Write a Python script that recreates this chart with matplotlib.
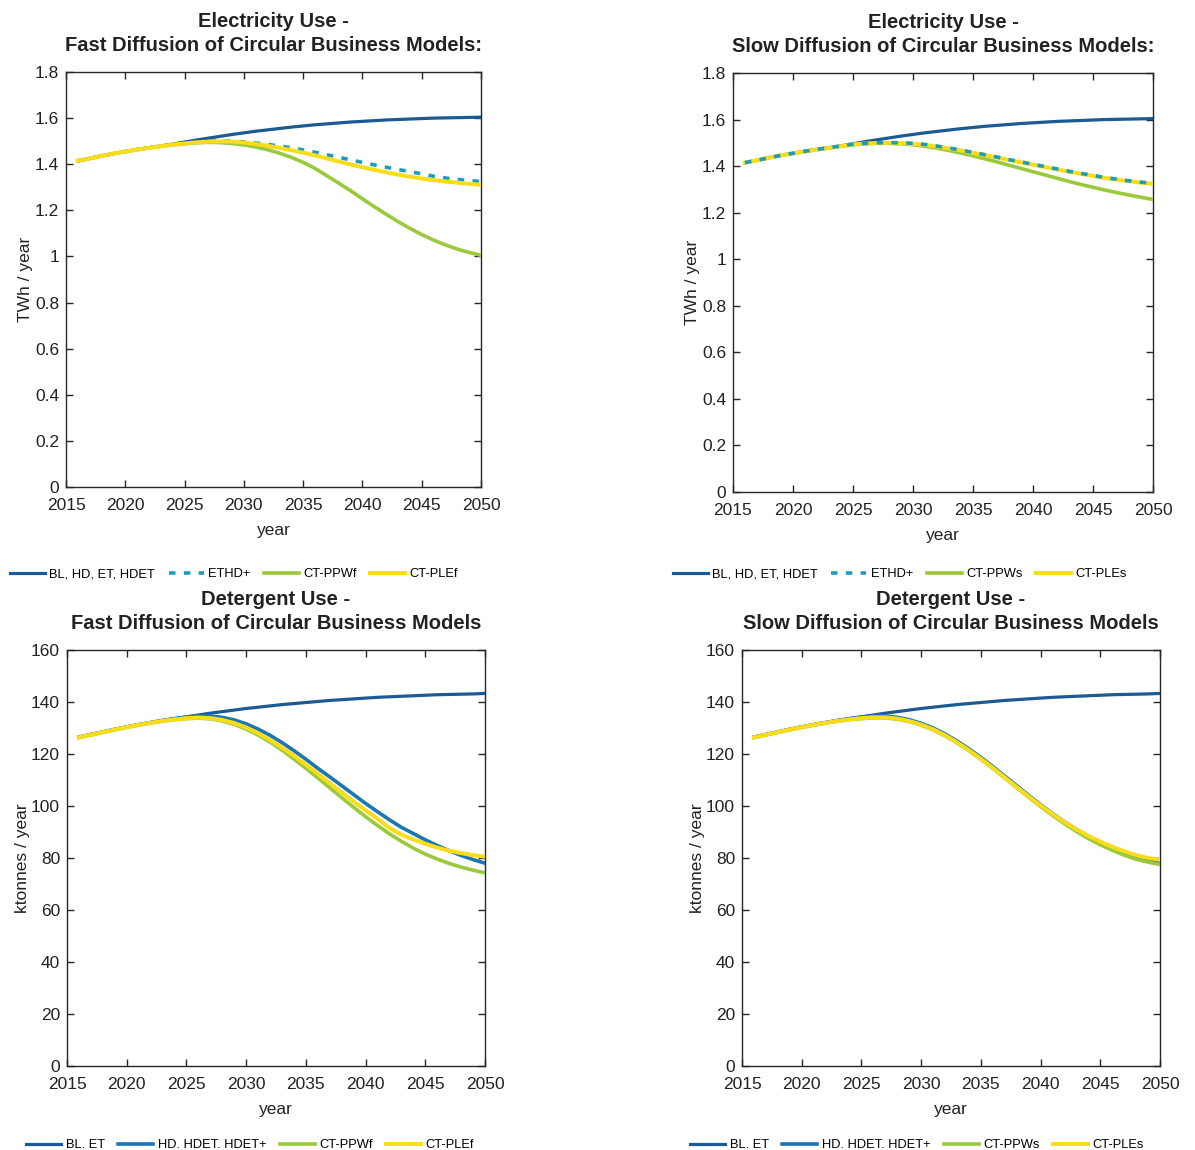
import numpy as np
import matplotlib
matplotlib.use("Agg")
import matplotlib.pyplot as plt

plt.rcParams['font.family'] = ['Liberation Sans', 'DejaVu Sans']

years = list(range(2016, 2051))

# electricity use, TWh / year
elec_bl = [1.415, 1.425, 1.436, 1.446, 1.455, 1.464, 1.472, 1.479, 1.487, 1.496,
           1.505, 1.513, 1.521, 1.529, 1.536, 1.543, 1.549, 1.555, 1.561, 1.566,
           1.571, 1.575, 1.579, 1.583, 1.586, 1.589, 1.592, 1.594, 1.596, 1.598,
           1.600, 1.601, 1.602, 1.603, 1.604]
elec_ethd_fast = [1.415, 1.425, 1.436, 1.446, 1.455, 1.464, 1.472, 1.479, 1.487, 1.494,
                  1.498, 1.500, 1.501, 1.500, 1.497, 1.492, 1.486, 1.479, 1.471, 1.462,
                  1.452, 1.441, 1.430, 1.419, 1.408, 1.397, 1.387, 1.377, 1.368, 1.358,
                  1.348, 1.340, 1.334, 1.329, 1.325]
elec_ppw_fast = [1.415, 1.425, 1.436, 1.446, 1.455, 1.463, 1.471, 1.478, 1.484, 1.488,
                 1.493, 1.495, 1.494, 1.490, 1.484, 1.475, 1.463, 1.448, 1.430, 1.408,
                 1.382, 1.350, 1.318, 1.285, 1.250, 1.216, 1.183, 1.151, 1.122, 1.095,
                 1.071, 1.050, 1.032, 1.017, 1.005]
elec_ple_fast = [1.415, 1.425, 1.436, 1.446, 1.455, 1.463, 1.471, 1.478, 1.485, 1.490,
                 1.495, 1.498, 1.499, 1.498, 1.494, 1.488, 1.480, 1.471, 1.461, 1.450,
                 1.438, 1.425, 1.412, 1.399, 1.387, 1.376, 1.365, 1.355, 1.346, 1.338,
                 1.331, 1.325, 1.320, 1.315, 1.311]
elec_ethd_slow = [1.415, 1.425, 1.436, 1.446, 1.455, 1.464, 1.472, 1.479, 1.487, 1.494,
                  1.498, 1.500, 1.501, 1.500, 1.498, 1.493, 1.486, 1.478, 1.469, 1.459,
                  1.449, 1.439, 1.428, 1.418, 1.408, 1.398, 1.388, 1.378, 1.369, 1.360,
                  1.351, 1.344, 1.337, 1.331, 1.326]
elec_ppw_slow = [1.415, 1.425, 1.436, 1.446, 1.455, 1.463, 1.471, 1.478, 1.485, 1.492,
                 1.496, 1.498, 1.498, 1.496, 1.492, 1.485, 1.477, 1.467, 1.456, 1.444,
                 1.431, 1.418, 1.404, 1.390, 1.376, 1.362, 1.348, 1.334, 1.321, 1.309,
                 1.297, 1.286, 1.276, 1.266, 1.257]
elec_ple_slow = [1.415, 1.425, 1.436, 1.446, 1.455, 1.463, 1.471, 1.478, 1.486, 1.493,
                 1.497, 1.499, 1.500, 1.499, 1.496, 1.491, 1.484, 1.476, 1.467, 1.457,
                 1.447, 1.437, 1.426, 1.416, 1.406, 1.396, 1.386, 1.376, 1.367, 1.358,
                 1.349, 1.342, 1.335, 1.329, 1.324]

# detergent use, ktonnes / year
det_bl = [126.5, 127.5, 128.5, 129.5, 130.4, 131.3, 132.1, 132.9, 133.6, 134.3,
          135.0, 135.7, 136.3, 136.9, 137.5, 138.0, 138.5, 139.0, 139.4, 139.8,
          140.2, 140.6, 140.9, 141.2, 141.5, 141.8, 142.0, 142.2, 142.4, 142.6,
          142.8, 142.9, 143.0, 143.1, 143.3]
det_hd_fast = [126.5, 127.5, 128.5, 129.5, 130.4, 131.3, 132.1, 132.9, 133.6, 134.2,
               134.6, 134.6, 134.1, 133.1, 131.6, 129.6, 127.2, 124.4, 121.3, 118.0,
               114.5, 111.2, 107.8, 104.4, 101.0, 97.8, 94.7, 91.8, 89.4, 87.0,
               84.8, 82.8, 81.0, 79.4, 78.0]
det_ppw_fast = [126.3, 127.3, 128.3, 129.3, 130.2, 131.1, 131.9, 132.6, 133.2, 133.6,
                133.8, 133.5, 132.7, 131.4, 129.6, 127.3, 124.6, 121.5, 118.1, 114.5,
                110.8, 107.0, 103.2, 99.5, 95.9, 92.5, 89.3, 86.4, 83.8, 81.5,
                79.6, 77.9, 76.5, 75.3, 74.3]
det_ple_fast = [126.4, 127.4, 128.4, 129.4, 130.3, 131.2, 132.0, 132.7, 133.3, 133.8,
                134.0, 133.8, 133.1, 131.9, 130.2, 128.0, 125.4, 122.5, 119.3, 115.9,
                112.4, 108.8, 105.2, 101.7, 98.3, 95.1, 91.5, 89.0, 87.1, 85.5,
                84.0, 82.8, 81.9, 81.1, 80.5]
det_hd_slow = [126.5, 127.5, 128.5, 129.5, 130.4, 131.3, 132.1, 132.9, 133.6, 134.2,
               134.6, 134.6, 134.1, 133.2, 131.8, 130.0, 127.7, 125.0, 122.0, 118.7,
               115.2, 111.5, 107.8, 104.1, 100.5, 97.1, 93.9, 91.0, 88.4, 86.1,
               84.1, 82.3, 80.8, 79.6, 78.6]
det_ppw_slow = [126.3, 127.3, 128.3, 129.3, 130.2, 131.1, 131.9, 132.6, 133.2, 133.6,
                133.9, 133.9, 133.4, 132.5, 131.1, 129.3, 127.0, 124.3, 121.3, 118.0,
                114.5, 110.8, 107.1, 103.4, 99.8, 96.4, 93.2, 90.2, 87.5, 85.1,
                83.0, 81.1, 79.5, 78.4, 77.5]
det_ple_slow = [126.4, 127.4, 128.4, 129.4, 130.3, 131.2, 132.0, 132.7, 133.3, 133.8,
                134.1, 134.1, 133.6, 132.7, 131.3, 129.5, 127.2, 124.5, 121.5, 118.2,
                114.7, 111.0, 107.3, 103.7, 100.2, 96.9, 93.8, 91.0, 88.5, 86.3,
                84.3, 82.6, 81.1, 80.0, 79.3]

c_bl = '#1b5a93'
c_hd = '#1a77b2'
c_ethd = '#1f9cbc'
c_ppw = '#9bc93c'
c_ple = '#f9dc1a'
c_axis = '#262626'
c_text = '#222222'

fig = plt.figure(figsize=(11.95, 11.5), dpi=100)
W, H = 1195, 1150


def add_ax(x0, x1, y0, y1):
    return fig.add_axes([x0 / W, 1 - y1 / H, (x1 - x0) / W, (y1 - y0) / H])


def style(ax, ylim, yticks, ylabel, title):
    ax.set_xlim(2015, 2050)
    ax.set_ylim(*ylim)
    ax.set_xticks(range(2015, 2051, 5))
    ax.set_yticks(yticks)
    ax.tick_params(direction='in', top=True, right=True, length=5, width=1,
                   color=c_axis, labelcolor=c_text, labelsize=12.5)
    ax.tick_params(axis='x', pad=8)
    ax.tick_params(axis='y', pad=5)
    for s in ax.spines.values():
        s.set_color(c_axis)
        s.set_linewidth(1)
    ax.set_xlabel('year', fontsize=12.5, color=c_text, labelpad=7)
    ax.set_ylabel(ylabel, fontsize=12.5, color=c_text, labelpad=1)
    ax.set_title(title, fontsize=14.5, fontweight='bold', color=c_text, pad=15,
                 linespacing=1.35)


def legend(ax, handles, labels, x, y):
    ax.legend(handles, labels, loc='center', bbox_to_anchor=(x, y), ncol=4,
              frameon=False, fontsize=9.3, handlelength=2.7, columnspacing=1.05,
              handletextpad=0.35)


elec_ticks = [0, 0.2, 0.4, 0.6, 0.8, 1, 1.2, 1.4, 1.6, 1.8]
elec_ticklabels = ['0', '0.2', '0.4', '0.6', '0.8', '1', '1.2', '1.4', '1.6', '1.8']
det_ticks = list(range(0, 161, 20))

# top left: electricity, fast diffusion
ax1 = add_ax(66, 481, 72, 487)
h1, = ax1.plot(years, elec_bl, color=c_bl, lw=2.3, zorder=3)
h2, = ax1.plot(years, elec_ethd_fast, color=c_ethd, lw=2.6, dashes=(1.8, 2.3),
               zorder=2)
h3, = ax1.plot(years, elec_ppw_fast, color=c_ppw, lw=2.6, zorder=4)
h4, = ax1.plot(years, elec_ple_fast, color=c_ple, lw=2.9, zorder=5)
style(ax1, (0, 1.8), elec_ticks, 'TWh / year',
      'Electricity Use -\nFast Diffusion of Circular Business Models:')
ax1.set_yticklabels(elec_ticklabels)
legend(ax1, [h1, h2, h3, h4], ['BL, HD, ET, HDET', 'ETHD+', 'CT-PPWf', 'CT-PLEf'],
       0.405, -0.21)

# top right: electricity, slow diffusion
ax2 = add_ax(733, 1153, 73, 492)
h1, = ax2.plot(years, elec_bl, color=c_bl, lw=2.3, zorder=3)
h3, = ax2.plot(years, elec_ppw_slow, color=c_ppw, lw=2.6, zorder=4)
h4, = ax2.plot(years, elec_ple_slow, color=c_ple, lw=2.9, zorder=5)
h2, = ax2.plot(years, elec_ethd_slow, color=c_ethd, lw=2.6, dashes=(1.8, 2.3),
               zorder=6)
style(ax2, (0, 1.8), elec_ticks, 'TWh / year',
      'Electricity Use -\nSlow Diffusion of Circular Business Models:')
ax2.set_yticklabels(elec_ticklabels)
legend(ax2, [h1, h2, h3, h4], ['BL, HD, ET, HDET', 'ETHD+', 'CT-PPWs', 'CT-PLEs'],
       0.397, -0.196)

# bottom left: detergent, fast diffusion
ax3 = add_ax(67, 485, 650, 1066)
h1, = ax3.plot(years, det_bl, color=c_bl, lw=2.3, zorder=3)
h2, = ax3.plot(years, det_hd_fast, color=c_hd, lw=2.6, zorder=4)
h3, = ax3.plot(years, det_ppw_fast, color=c_ppw, lw=2.6, zorder=5)
h4, = ax3.plot(years, det_ple_fast, color=c_ple, lw=2.9, zorder=6)
style(ax3, (0, 160), det_ticks, 'ktonnes / year',
      'Detergent Use -\nFast Diffusion of Circular Business Models')
legend(ax3, [h1, h2, h3, h4], ['BL. ET', 'HD. HDET. HDET+', 'CT-PPWf', 'CT-PLEf'],
       0.438, -0.19)

# bottom right: detergent, slow diffusion
ax4 = add_ax(742, 1160, 650, 1066)
h1, = ax4.plot(years, det_bl, color=c_bl, lw=2.3, zorder=3)
h2, = ax4.plot(years, det_hd_slow, color=c_hd, lw=2.6, zorder=4)
h3, = ax4.plot(years, det_ppw_slow, color=c_ppw, lw=2.6, zorder=5)
h4, = ax4.plot(years, det_ple_slow, color=c_ple, lw=2.9, zorder=6)
style(ax4, (0, 160), det_ticks, 'ktonnes / year',
      'Detergent Use -\nSlow Diffusion of Circular Business Models')
legend(ax4, [h1, h2, h3, h4], ['BL. ET', 'HD. HDET. HDET+', 'CT-PPWs', 'CT-PLEs'],
       0.419, -0.19)

fig.savefig('out.png', dpi=100, facecolor='white')
